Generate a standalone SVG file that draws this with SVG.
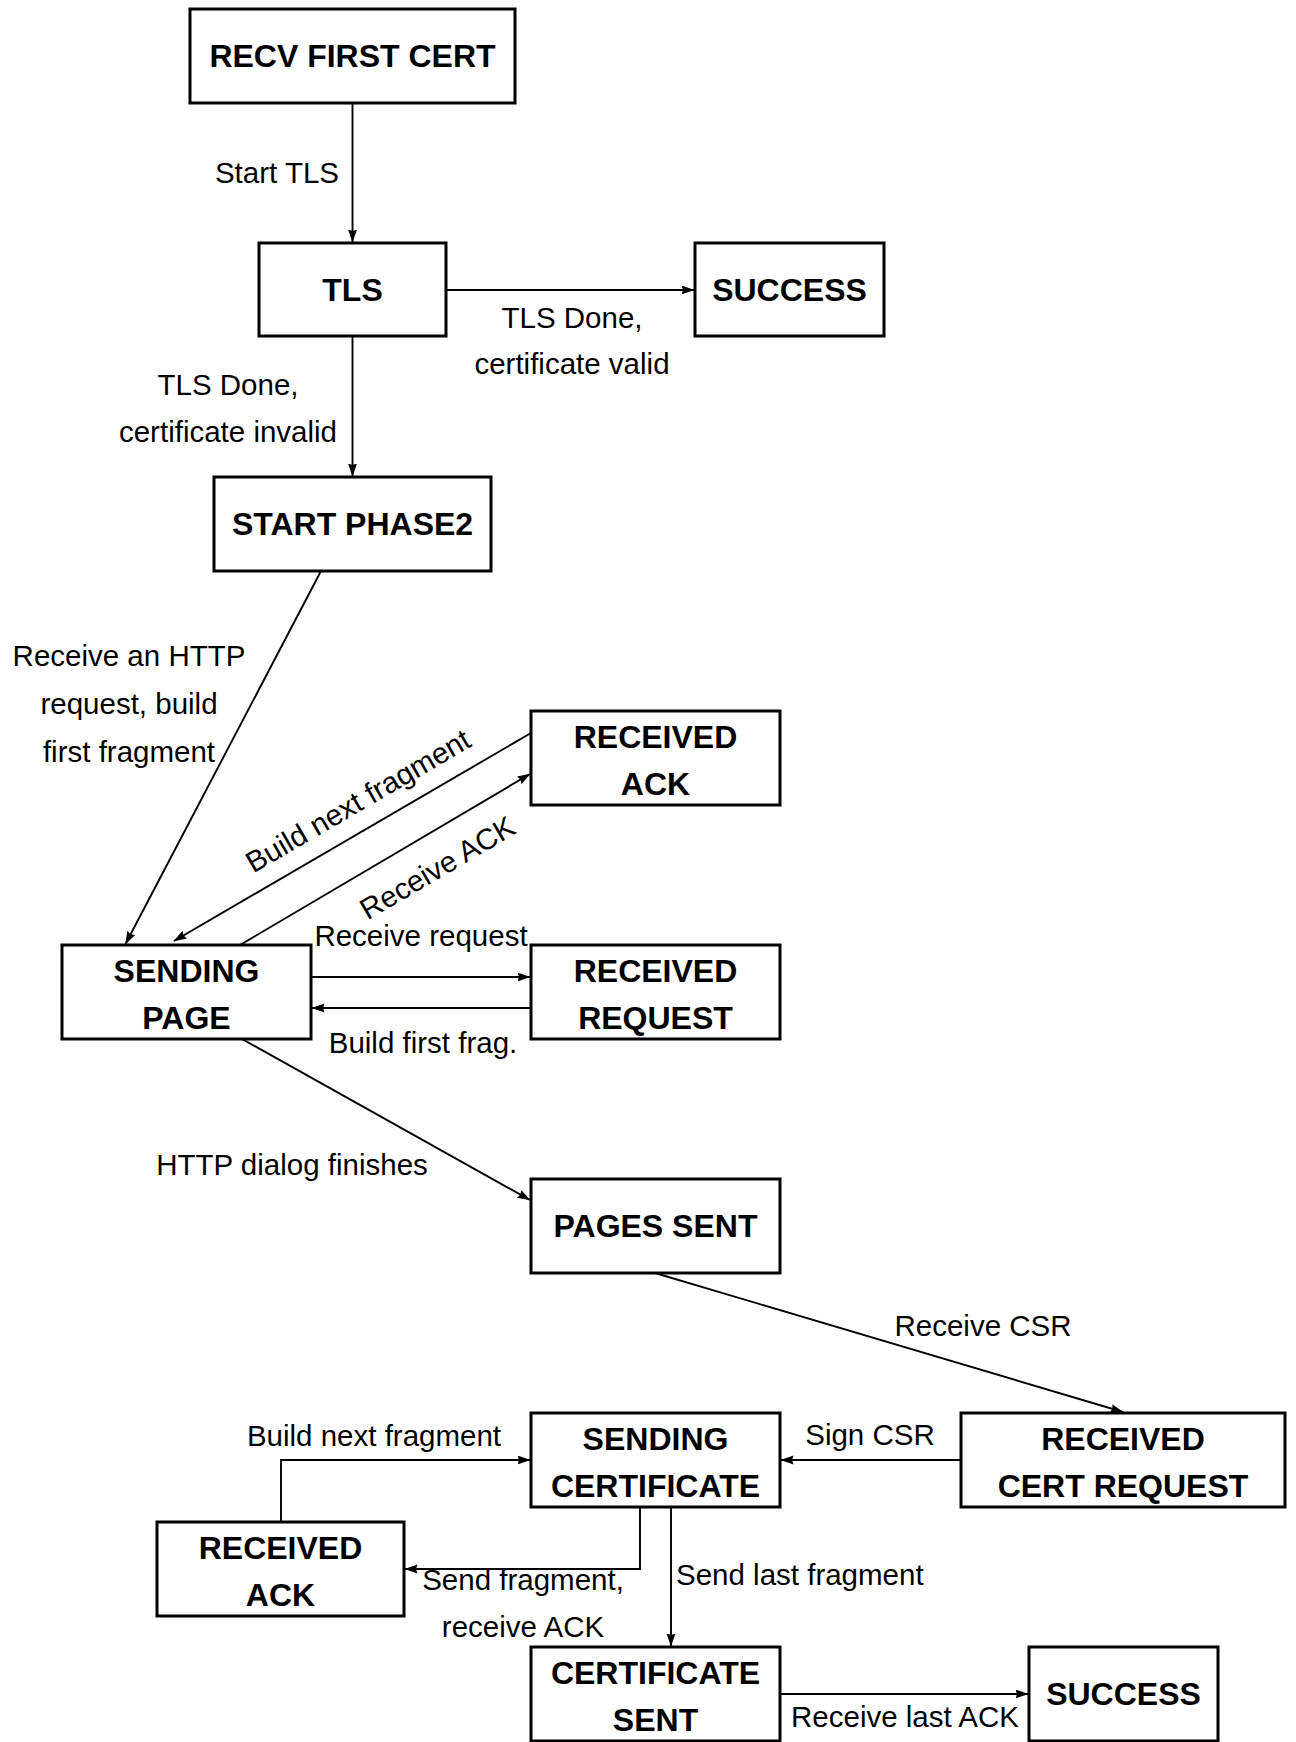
<svg xmlns="http://www.w3.org/2000/svg" width="1296" height="1742" viewBox="0 0 1296 1742">
<style>
.node rect{fill:#fff;stroke:#000;stroke-width:3}
.node text{font-family:"Liberation Sans",Arial,sans-serif;font-weight:bold;font-size:32px;text-anchor:middle;fill:#000}
.edges line,.edges polyline{stroke:#000;stroke-width:1.9;fill:none;marker-end:url(#ah)}
.lbl{font-family:"Liberation Sans",Arial,sans-serif;font-size:29.5px;fill:#000}
.m{text-anchor:middle}
.e{text-anchor:end}
</style>
<defs>
<marker id="ah" markerUnits="userSpaceOnUse" markerWidth="14" markerHeight="10" refX="12.5" refY="4.5" orient="auto">
<path d="M0,0 L13,4.5 L0,9 L1.5,4.5 z" fill="#000"/>
</marker>
</defs>
<rect width="1296" height="1742" fill="#fff"/>
<g class="edges">
<line x1="352.5" y1="103" x2="352.5" y2="242"/>
<line x1="446" y1="290" x2="694" y2="290"/>
<line x1="352.5" y1="336" x2="352.5" y2="476"/>
<line x1="321" y1="571" x2="125.5" y2="944"/>
<line x1="531" y1="733" x2="174" y2="941"/>
<line x1="240" y1="945" x2="530" y2="774"/>
<line x1="311" y1="977" x2="530" y2="977"/>
<line x1="531" y1="1008" x2="312" y2="1008"/>
<line x1="242" y1="1039" x2="530" y2="1200"/>
<line x1="655" y1="1273" x2="1123" y2="1412"/>
<line x1="961" y1="1460" x2="781" y2="1460"/>
<polyline points="281,1522 281,1460 530,1460"/>
<polyline points="640,1507 640,1569 405,1569"/>
<line x1="671" y1="1507" x2="671" y2="1646"/>
<line x1="780" y1="1694" x2="1028" y2="1694"/>
</g>
<g class="labels">
<text class="lbl e" x="339" y="183">Start TLS</text>
<text class="lbl m" x="572" y="328">TLS Done,</text>
<text class="lbl m" x="572" y="374">certificate valid</text>
<text class="lbl m" x="228" y="395">TLS Done,</text>
<text class="lbl m" x="228" y="442">certificate invalid</text>
<text class="lbl m" x="129" y="666">Receive an HTTP</text>
<text class="lbl m" x="129" y="714">request, build</text>
<text class="lbl m" x="129" y="762">first fragment</text>
<text class="lbl m" transform="translate(358,801) rotate(-30.2)" x="0" y="10">Build next fragment</text>
<text class="lbl m" transform="translate(437.5,868) rotate(-30.4)" x="0" y="10">Receive ACK</text>
<text class="lbl m" x="421" y="946">Receive request</text>
<text class="lbl m" x="423" y="1053">Build first frag.</text>
<text class="lbl m" x="292" y="1175">HTTP dialog finishes</text>
<text class="lbl m" x="983" y="1336">Receive CSR</text>
<text class="lbl m" x="870" y="1445">Sign CSR</text>
<text class="lbl m" x="374" y="1446">Build next fragment</text>
<text class="lbl m" x="523" y="1590">Send fragment,</text>
<text class="lbl m" x="523" y="1637">receive ACK</text>
<text class="lbl" x="676" y="1585">Send last fragment</text>
<text class="lbl m" x="905" y="1727">Receive last ACK</text>
</g>
<g id="recv_first_cert" class="node"><rect x="190" y="9" width="325" height="94"/><text x="352.5" y="67">RECV FIRST CERT</text></g>
<g id="tls" class="node"><rect x="259" y="243" width="187" height="93"/><text x="352.5" y="301">TLS</text></g>
<g id="success1" class="node"><rect x="695" y="243" width="189" height="93"/><text x="789.5" y="301">SUCCESS</text></g>
<g id="start_phase2" class="node"><rect x="214" y="477" width="277" height="94"/><text x="352.5" y="535">START PHASE2</text></g>
<g id="received_ack1" class="node"><rect x="531" y="711" width="249" height="94"/><text x="655.5" y="748">RECEIVED</text><text x="655.5" y="795">ACK</text></g>
<g id="sending_page" class="node"><rect x="62" y="945" width="249" height="94"/><text x="186.5" y="982">SENDING</text><text x="186.5" y="1029">PAGE</text></g>
<g id="received_request" class="node"><rect x="531" y="945" width="249" height="94"/><text x="655.5" y="982">RECEIVED</text><text x="655.5" y="1029">REQUEST</text></g>
<g id="pages_sent" class="node"><rect x="531" y="1179" width="249" height="94"/><text x="655.5" y="1237">PAGES SENT</text></g>
<g id="sending_certificate" class="node"><rect x="531" y="1413" width="249" height="94"/><text x="655.5" y="1450">SENDING</text><text x="655.5" y="1497">CERTIFICATE</text></g>
<g id="received_cert_request" class="node"><rect x="961" y="1413" width="324" height="94"/><text x="1123" y="1450">RECEIVED</text><text x="1123" y="1497">CERT REQUEST</text></g>
<g id="received_ack2" class="node"><rect x="157" y="1522" width="247" height="94"/><text x="280.5" y="1559">RECEIVED</text><text x="280.5" y="1606">ACK</text></g>
<g id="certificate_sent" class="node"><rect x="531" y="1647" width="249" height="94"/><text x="655.5" y="1684">CERTIFICATE</text><text x="655.5" y="1731">SENT</text></g>
<g id="success2" class="node"><rect x="1029" y="1647" width="189" height="94"/><text x="1123.5" y="1705">SUCCESS</text></g>
</svg>
